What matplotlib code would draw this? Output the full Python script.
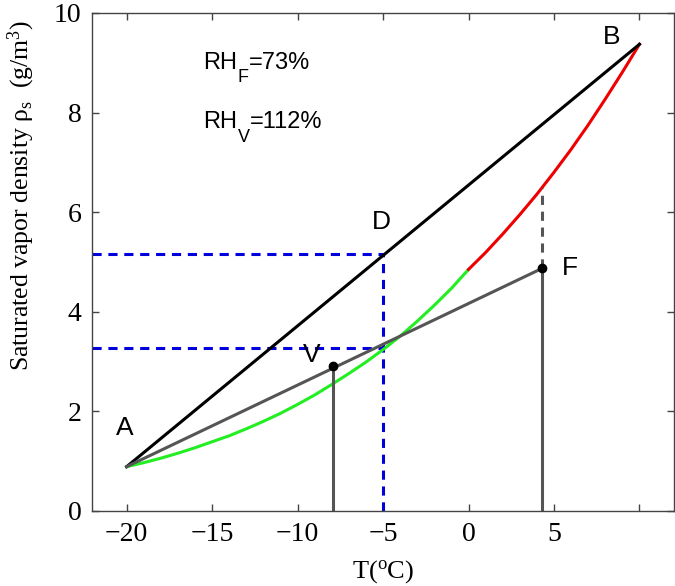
import matplotlib
matplotlib.use("Agg")
import matplotlib.pyplot as plt

# saturation vapor density (g/m3)
t_ice = [-20, -19, -18, -17, -16, -15, -14, -13, -12, -11, -10,
         -9, -8, -7, -6, -5, -4, -3, -2, -1, 0]
rho_ice = [0.89, 0.97, 1.06, 1.16, 1.27, 1.39, 1.51, 1.65, 1.80, 1.96, 2.14,
           2.33, 2.54, 2.76, 2.99, 3.24, 3.51, 3.81, 4.13, 4.47, 4.85]
t_water = [0, 1, 2, 3, 4, 5, 6, 7, 8, 9, 10]
rho_water = [4.85, 5.19, 5.56, 5.95, 6.36, 6.80, 7.26, 7.75, 8.27, 8.81, 9.37]

pt_A = (-20, 0.89)
pt_B = (10, 9.37)
pt_F = (4.3, 4.87)
pt_V = (-7.9, 2.91)
rho_F_sat = 6.48
t_D = -5
rho_D = 5.15
rho_low = 3.28

plt.rcParams["mathtext.fontset"] = "custom"
plt.rcParams["mathtext.rm"] = "Liberation Serif"
plt.rcParams["mathtext.it"] = "Liberation Serif:italic"
plt.rcParams["mathtext.sf"] = "Liberation Sans"

fig = plt.figure(figsize=(6.75, 5.86), dpi=100)
ax = fig.add_axes([0.137, 0.128, 0.861, 0.85])

gray = "#555555"
blue = "#0000dd"
dash = (0, (3, 2.2))
ax.plot([t_D, t_D], [0, rho_D], color=blue, lw=2.2, ls=dash)
ax.plot([-22, t_D], [rho_D, rho_D], color=blue, lw=2.2, ls=dash)
ax.plot([-22, t_D], [rho_low, rho_low], color=blue, lw=2.2, ls=dash)

ax.plot(t_ice, rho_ice, color="#22ee22", lw=2.2)
ax.plot(t_water, rho_water, color="#ee0000", lw=2.2)
ax.plot([pt_A[0], pt_B[0]], [pt_A[1], pt_B[1]], color="black", lw=2.2)
ax.plot([pt_A[0], pt_F[0]], [pt_A[1], pt_F[1]], color=gray, lw=2.2)

ax.plot([pt_V[0], pt_V[0]], [0, pt_V[1]], color=gray, lw=2.2)
ax.plot([pt_F[0], pt_F[0]], [0, pt_F[1]], color=gray, lw=2.2)
ax.plot([pt_F[0], pt_F[0]], [pt_F[1], rho_F_sat], color=gray, lw=2.2, ls=dash)
ax.plot([pt_V[0], pt_F[0]], [pt_V[1], pt_F[1]], "o", color="black", ms=6)

sans = "Liberation Sans"


def rh_label(x, y, sub, rest):
    t1 = ax.text(x, y, "RH", fontsize=17, family=sans, va="bottom")
    t2 = ax.annotate(sub, xy=(1, 0), xycoords=t1, xytext=(0, -9),
                     textcoords="offset points", fontsize=13, family=sans,
                     va="bottom")
    ax.annotate(rest, xy=(1, 0), xycoords=(t2, t1), fontsize=17,
                family=sans, va="bottom")


rh_label(-15.5, 8.78, "F", "=73%")
rh_label(-15.5, 7.58, "V", "=112%")

ax.text(-20.1, 1.67, "A", fontsize=19, family=sans, ha="center", va="center")
ax.text(8.35, 9.52, "B", fontsize=19, family=sans, ha="center", va="center")
ax.text(-5.1, 5.8, "D", fontsize=19, family=sans, ha="center", va="center")
ax.text(-9.2, 3.13, "V", fontsize=19, family=sans, ha="center", va="center")
ax.text(5.9, 4.88, "F", fontsize=19, family=sans, ha="center", va="center")

ax.set_xlim(-22, 12)
ax.set_ylim(0, 10)
ax.set_xticks([-20, -15, -10, -5, 0, 5, 10])
ax.set_xticklabels(["\u221220", "\u221215", "\u221210", "\u22125", "0", "5", ""])
ax.set_yticks([0, 2, 4, 6, 8, 10])
ax.tick_params(direction="in", top=True, right=True, length=5, width=1,
               color="#444444", labelsize=20, pad=8)
for lab in ax.get_xticklabels() + ax.get_yticklabels():
    lab.set_family("Liberation Serif")
for sp in ax.spines.values():
    sp.set_color("#444444")
    sp.set_linewidth(1)

ax.set_xlabel("T($^{\\rm o}$C)", fontsize=19, family="Liberation Serif")
ax.xaxis.set_label_coords(0.5, -0.095)
ax.set_ylabel("Saturated vapor density \u03c1$_{\\rm s}$  (g/m$^{3}$)", fontsize=18.5,
              family="Liberation Serif")
ax.yaxis.set_label_coords(-0.095, 0.633)

fig.savefig("out.png", dpi=100)
